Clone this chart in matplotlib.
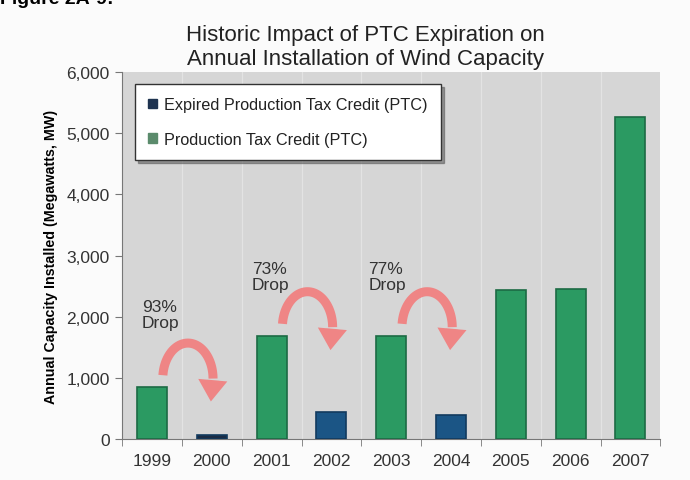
import numpy as np
import matplotlib.pyplot as plt
from matplotlib.patches import FancyArrowPatch, Patch
from matplotlib.ticker import FuncFormatter

# data
years = ["1999", "2000", "2001", "2002", "2003", "2004", "2005", "2006", "2007"]
capacity = [850, 70, 1690, 450, 1690, 390, 2430, 2460, 5260]
expired = [False, True, False, True, False, True, False, False, False]
drops = ["93%\nDrop", "73%\nDrop", "77%\nDrop"]
drop_pairs = [(0, 1), (2, 3), (4, 5)]

plt.rcParams['font.family'] = ['Liberation Sans', 'DejaVu Sans']

fig = plt.figure(figsize=(6.9, 4.81), dpi=100)
fig.patch.set_facecolor('#fbfbfb')
ax = fig.add_axes([0.177, 0.085, 0.78, 0.763])
ax.set_facecolor('#d6d6d6')

x = np.arange(len(years))
green = '#2b9a62'
blue = '#1b5585'
cols = []
for i, e in enumerate(expired):
    if e:
        cols.append('#1a2c45' if capacity[i] < 100 else blue)
    else:
        cols.append(green)
ax.bar(x, capacity, width=0.5, color=cols, edgecolor='#1c6b44', linewidth=1.2, zorder=3)
for i in x:
    if expired[i]:
        ax.patches[i].set_edgecolor('#123a5e')

# faint separators
for b in np.arange(0.5, len(years) - 1, 1):
    ax.axvline(b, color='#ececec', lw=0.9, alpha=0.6, zorder=1)

ax.set_xlim(-0.5, len(years) - 0.5)
ax.set_ylim(0, 6000)
ax.set_yticks(np.arange(0, 6001, 1000))
ax.yaxis.set_major_formatter(FuncFormatter(lambda v, p: f"{int(v):,}"))
ax.set_xticks(x)
ax.set_xticklabels(years)
ax.set_xticks(np.arange(-0.5, len(years), 1), minor=True)
ax.tick_params(axis='x', which='major', length=0, pad=10, labelsize=12.5, labelcolor='#333333')
ax.tick_params(axis='x', which='minor', length=5, direction='out', color='#777777')
ax.tick_params(axis='y', length=5, direction='out', color='#777777', labelsize=12.5, labelcolor='#333333', pad=4)
for s in ['top', 'right']:
    ax.spines[s].set_visible(False)
for s in ['left', 'bottom']:
    ax.spines[s].set_color('#777777')

ax.set_ylabel("Annual Capacity Installed (Megawatts, MW)", fontsize=10.3, fontweight='bold', labelpad=6)

# drop labels and curved arrows (half-ellipse arc + downward head)
label_pos = [(-0.17, 2040), (1.67, 2660), (3.62, 2660)]
pink = '#f27c7c'
for (a, b), txt, (lx, ly) in zip(drop_pairs, drops, label_pos):
    ax.text(lx, ly, txt, fontsize=12.5, color='#333333', va='center', ha='left', linespacing=1.05, zorder=5)
    cx = a + 0.6
    cy = capacity[a] + 140
    rx, ry = 0.42, 580
    t = np.linspace(np.pi * 0.97, 0.0, 60)
    ax.plot(cx + rx * np.cos(t), cy + ry * np.sin(t), color=pink, lw=6.5,
            solid_capstyle='butt', alpha=0.9, zorder=4)
    head = FancyArrowPatch((cx + rx, cy + 20), (cx + rx - 0.04, cy - 420),
                           arrowstyle="simple,head_width=1.5,head_length=1.1,tail_width=0.62",
                           mutation_scale=14, color=pink, alpha=0.9, zorder=4, lw=0)
    ax.add_patch(head)

handles = [Patch(facecolor='#1e3350', edgecolor='#1e3350', label='Expired Production Tax Credit (PTC)'),
           Patch(facecolor='#5b8b6c', edgecolor='#5b8b6c', label='Production Tax Credit (PTC)')]
leg = ax.legend(handles=handles, loc='upper left', bbox_to_anchor=(0.024, 0.967), fontsize=11.7,
                frameon=True, fancybox=False, shadow=True, handlelength=0.55, handleheight=0.55,
                handletextpad=0.45, borderpad=0.8, labelspacing=1.2, borderaxespad=0)
leg.get_frame().set_edgecolor('#333333')
leg.get_frame().set_facecolor('white')
leg.get_frame().set_alpha(1)
for t in leg.get_texts():
    t.set_color('#222222')

fig.text(0.53, 0.902, "Historic Impact of PTC Expiration on\nAnnual Installation of Wind Capacity",
         ha='center', va='center', fontsize=16, color='#222222', linespacing=1.2)
fig.text(0.0, 0.992, "Figure 2A-9:", fontsize=14, fontweight='bold', va='baseline', ha='left')

fig.savefig('out.png', dpi=100)
